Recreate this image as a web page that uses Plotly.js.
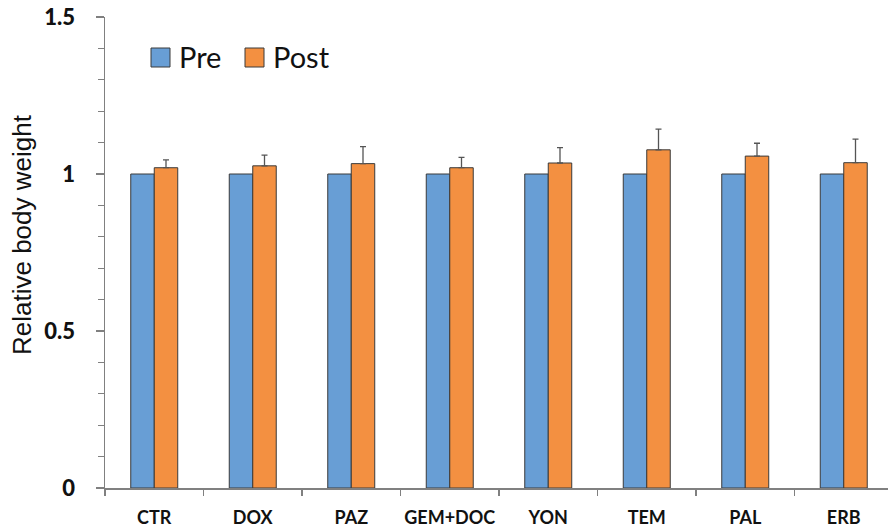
<!DOCTYPE html>
<html>
<head>
<meta charset="utf-8">
<script src="https://cdn.plot.ly/plotly-3.0.1.min.js"></script>
<style>html,body{margin:0;padding:0;background:#fff;}#chart{width:888px;height:531px;}</style>
</head>
<body>
<div id="chart"></div>
<script>
const categories = ["CTR", "DOX", "PAZ", "GEM+DOC", "YON", "TEM", "PAL", "ERB"];
const preValues = [1, 1, 1, 1, 1, 1, 1, 1];
const postValues = [1.020, 1.026, 1.033, 1.020, 1.035, 1.077, 1.057, 1.036];
const postErrors = [0.025, 0.034, 0.054, 0.033, 0.049, 0.066, 0.041, 0.075];
const seriesNames = ["Pre", "Post"];
const yTickVals = [0, 0.5, 1, 1.5];
const yTickText = ["0", "0.5", "1", "1.5"];

const W = 888, H = 531;
const mL = 105, mR = 0, mT = 17, mB = 43;
const pw = W - mL - mR, ph = H - mT - mB;
const catW = 98.5;
const px = v => (v - mL) / pw;
const py = v => (H - mB - v) / ph;

const blue = "#689ED5", orange = "#F39041";
const outline = {color: "#3a3a3a", width: 1};

const traces = [
  {type: "bar", name: seriesNames[0], x: categories, y: preValues,
   marker: {color: blue, line: outline}, showlegend: false, hoverinfo: "x+y"},
  {type: "bar", name: seriesNames[1], x: categories, y: postValues,
   marker: {color: orange, line: outline}, showlegend: false,
   error_y: {type: "data", array: postErrors, symmetric: false, arrayminus: postErrors.map(() => 0),
             color: "#555555", thickness: 1.3, width: 3}}
];

const legFont = {family: "Lato, 'Open Sans', sans-serif", size: 29, color: "#111"};
const layout = {
  width: W, height: H,
  margin: {l: mL, r: mR, t: mT, b: mB, pad: 0},
  paper_bgcolor: "#fff", plot_bgcolor: "#fff",
  barmode: "group", bargap: 0.523, bargroupgap: 0,
  showlegend: false,
  xaxis: {
    range: [-0.5, -0.5 + pw / catW],
    showline: true, linecolor: "#808080", linewidth: 1.5,
    ticks: "outside", tickson: "boundaries", ticklen: 6, tickcolor: "#808080", tickwidth: 1.5,
    tickangle: 0,
    tickfont: {family: "Lato, 'Open Sans', sans-serif", size: 18, color: "#111", weight: "bold"},
    ticklabelstandoff: 13,
    showgrid: false, zeroline: false, fixedrange: true
  },
  yaxis: {
    range: [0, 1.5],
    tickvals: yTickVals, ticktext: yTickText,
    showline: true, linecolor: "#808080", linewidth: 1.5,
    ticks: "outside", ticklen: 8, tickcolor: "#808080", tickwidth: 1.5,
    minor: {dtick: 0.1, ticks: "outside", ticklen: 6, tickcolor: "#808080", tickwidth: 1.2, showgrid: false},
    tickfont: {family: "Lato, 'Open Sans', sans-serif", size: 22, color: "#111", weight: 900},
    ticklabelstandoff: 16,
    showgrid: false, zeroline: false, fixedrange: true
  },
  shapes: [
    {type: "rect", xref: "paper", yref: "paper", x0: px(151), x1: px(170), y0: py(67), y1: py(48),
     fillcolor: blue, line: outline},
    {type: "rect", xref: "paper", yref: "paper", x0: px(245), x1: px(264), y0: py(67), y1: py(48),
     fillcolor: orange, line: outline}
  ],
  annotations: [
    {xref: "paper", yref: "paper", x: px(177), y: py(57), xanchor: "left", yanchor: "middle",
     text: seriesNames[0], showarrow: false, font: legFont},
    {xref: "paper", yref: "paper", x: px(271), y: py(57), xanchor: "left", yanchor: "middle",
     text: seriesNames[1], showarrow: false, font: legFont},
    {xref: "paper", yref: "paper", x: px(22), y: py(235), xanchor: "center", yanchor: "middle",
     textangle: -90, text: "Relative body weight", showarrow: false,
     font: {family: "'Liberation Sans', Arial, sans-serif", size: 26, color: "#111"}}
  ]
};

Plotly.newPlot("chart", traces, layout, {displayModeBar: false, staticPlot: true});
</script>
</body>
</html>
